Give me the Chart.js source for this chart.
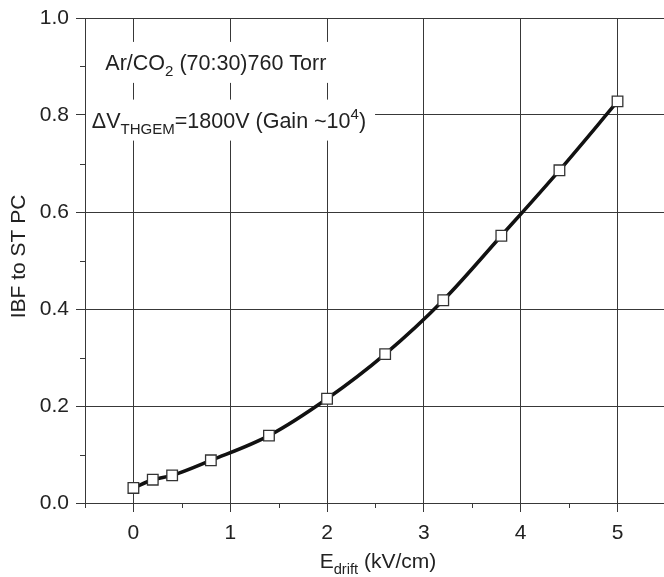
<!DOCTYPE html>
<html>
<head>
<meta charset="utf-8">
<script src="https://cdn.jsdelivr.net/npm/chart.js@4.4.0/dist/chart.umd.min.js"></script>
<style>
  html, body { margin: 0; padding: 0; background: #fff; }
  #wrap { width: 664px; height: 577px; }
</style>
</head>
<body>
<div id="wrap"><canvas id="ibfChart" width="664" height="577"></canvas></div>
<script>
// IBF vs drift field
const driftField = [0, 0.2, 0.4, 0.8, 1.4, 2.0, 2.6, 3.2, 3.8, 4.4, 5.0];
const ibfValues = [0.031, 0.048, 0.057, 0.088, 0.139, 0.215, 0.307, 0.418, 0.551, 0.686, 0.828];

const xTicks = [0, 1, 2, 3, 4, 5];
const yTicks = [0, 0.2, 0.4, 0.6, 0.8, 1.0];
const xMinorTicks = [-0.5, 0.5, 1.5, 2.5, 3.5, 4.5];
const yMinorTicks = [0.1, 0.3, 0.5, 0.7, 0.9];

const FONT = '"Liberation Sans", Arial, sans-serif';
const GRID = '#383838';
const TEXT = '#222';

// text with sub/superscripts: [text, mode]
const noteLine1 = [['Ar/CO', ''], ['2', 'sub'], [' (70:30)760 Torr', '']];
const noteLine2 = [['\u0394V', ''], ['THGEM', 'sub'], ['=1800V (Gain ~10', ''], ['4', 'sup'], [')', '']];
const xTitle = [['E', ''], ['drift', 'sub'], [' (kV/cm)', '']];
const yTitle = 'IBF to ST PC';

function richWidth(ctx, parts, size) {
    let w = 0;
    parts.forEach(([t, mode]) => {
        ctx.font = (mode ? size * 0.7 : size) + 'px ' + FONT;
        w += ctx.measureText(t).width;
    });
    return w;
}

function drawRich(ctx, parts, x, y, size) {
    let cx = x;
    parts.forEach(([t, mode]) => {
        ctx.font = (mode ? size * 0.7 : size) + 'px ' + FONT;
        let dy = 0;
        if (mode === 'sub') dy = size * 0.28;
        if (mode === 'sup') dy = -size * 0.42;
        ctx.fillText(t, cx, y + dy);
        cx += ctx.measureText(t).width;
    });
    return cx - x;
}

// white-backed notes inside the plot, drawn over grid but under the curve
const notesPlugin = {
    id: 'notes',
    beforeDatasetsDraw(chart) {
        const { ctx, chartArea, scales: { x, y } } = chart;
        const size = 21.5;
        const notes = [
            { parts: noteLine1, xv: -0.29, yv: 0.893 },
            { parts: noteLine2, xv: -0.43, yv: 0.774 }
        ];
        ctx.save();
        ctx.beginPath();
        ctx.rect(chartArea.left + 1, chartArea.top + 1, chartArea.right - chartArea.left, chartArea.bottom - chartArea.top);
        ctx.clip();
        notes.forEach(n => {
            const px = x.getPixelForValue(n.xv);
            const py = y.getPixelForValue(n.yv);
            const w = richWidth(ctx, n.parts, size);
            ctx.fillStyle = '#fff';
            ctx.fillRect(px - 9, py - 28, w + 18, 41);
        });
        ctx.fillStyle = TEXT;
        ctx.textBaseline = 'alphabetic';
        ctx.textAlign = 'left';
        notes.forEach(n => {
            drawRich(ctx, n.parts, x.getPixelForValue(n.xv), y.getPixelForValue(n.yv), size);
        });
        ctx.restore();
    }
};

// minor ticks and axis titles
const axesPlugin = {
    id: 'axesExtra',
    afterDraw(chart) {
        const { ctx, chartArea, scales: { x, y } } = chart;
        ctx.save();
        ctx.strokeStyle = GRID;
        ctx.lineWidth = 1;
        ctx.beginPath();
        xMinorTicks.forEach(v => {
            const px = Math.round(x.getPixelForValue(v)) + 0.5;
            ctx.moveTo(px, chartArea.bottom);
            ctx.lineTo(px, chartArea.bottom + 5);
        });
        yMinorTicks.forEach(v => {
            const py = Math.round(y.getPixelForValue(v)) + 0.5;
            ctx.moveTo(chartArea.left - 5, py);
            ctx.lineTo(chartArea.left, py);
        });
        ctx.stroke();

        ctx.fillStyle = TEXT;
        ctx.textBaseline = 'alphabetic';
        const size = 21;
        const w = richWidth(ctx, xTitle, size);
        drawRich(ctx, xTitle, 378 - w / 2, 568, size);

        ctx.translate(25, (chartArea.top + chartArea.bottom) / 2 - 4);
        ctx.rotate(-Math.PI / 2);
        ctx.font = size + 'px ' + FONT;
        ctx.textAlign = 'center';
        ctx.fillText(yTitle, 0, 0);
        ctx.restore();
    }
};

const ctx = document.getElementById('ibfChart');

new Chart(ctx, {
    type: 'scatter',
    data: {
        datasets: [{
            data: driftField.map((v, i) => ({ x: v, y: ibfValues[i] })),
            showLine: true,
            borderColor: '#111',
            borderWidth: 3.5,
            cubicInterpolationMode: 'monotone',
            pointStyle: 'rect',
            pointRadius: 7.5,
            pointHoverRadius: 7.5,
            pointBackgroundColor: '#fff',
            pointBorderColor: '#333',
            pointBorderWidth: 1.3
        }]
    },
    options: {
        responsive: false,
        animation: false,
        events: [],
        layout: { autoPadding: false, padding: { top: 18, left: 0, right: 0, bottom: 0 } },
        plugins: {
            legend: { display: false },
            tooltip: { enabled: false }
        },
        scales: {
            x: {
                type: 'linear',
                min: -0.5,
                max: 5.48,
                afterBuildTicks: s => { s.ticks = xTicks.map(v => ({ value: v })); },
                afterFit: s => { s.height = 74; s.paddingLeft = 0; s.paddingRight = 0; },
                grid: { color: GRID, lineWidth: 1, tickLength: 9 },
                border: { color: GRID, width: 1 },
                ticks: {
                    color: TEXT,
                    padding: 9,
                    maxRotation: 0,
                    font: { family: FONT, size: 21 },
                    callback: v => String(v)
                }
            },
            y: {
                type: 'linear',
                min: 0,
                max: 1,
                afterBuildTicks: s => { s.ticks = yTicks.map(v => ({ value: v })); },
                afterFit: s => { s.width = 85; s.paddingTop = 0; s.paddingBottom = 0; },
                grid: { color: GRID, lineWidth: 1, tickLength: 9 },
                border: { color: GRID, width: 1 },
                ticks: {
                    color: TEXT,
                    padding: 7,
                    font: { family: FONT, size: 21 },
                    callback: v => v.toFixed(1)
                }
            }
        }
    },
    plugins: [notesPlugin, axesPlugin]
});
</script>
</body>
</html>
